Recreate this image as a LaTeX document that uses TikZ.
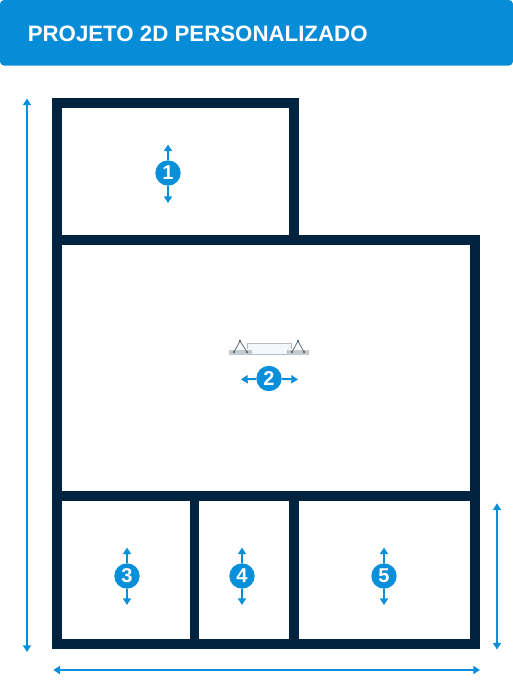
\documentclass[tikz,border=0pt]{standalone}
\usepackage{fontspec}
\setmainfont{Liberation Sans}
\usetikzlibrary{arrows.meta}
\definecolor{brand}{HTML}{078FD9}
\definecolor{bannerC}{HTML}{078DD8}
\definecolor{wallC}{HTML}{00243F}
\definecolor{winfill}{HTML}{F1F9FD}
\definecolor{winline}{HTML}{B4BEC2}
\definecolor{sill}{HTML}{C4C9CC}
\definecolor{hinge}{HTML}{5A6C78}
\tikzset{
  wall/.style={fill=wallC,draw=none},
  tipS/.tip={Triangle[length=5pt,width=6pt]},
  dim/.style={draw=brand,line width=1.5pt,tipS-tipS},
  spoke/.style={draw=brand,line width=1.5pt},
  badge/.style={circle,fill=brand,text=white,inner sep=0pt,minimum size=19pt,font=\bfseries\fontsize{15}{15}\selectfont},
  sillbar/.style={fill=sill,draw=none},
  frame/.style={draw=winline,line width=0.7pt},
  hingeline/.style={draw=hinge,line width=0.6pt},
  dot/.style={fill=hinge,draw=none}
}
\begin{document}
\begin{tikzpicture}[x=0.75pt,y=-0.75pt]
\useasboundingbox (0,0) rectangle (513,697);
\fill[white] (0,0) rectangle (513,697);
% banner
\fill[bannerC,rounded corners=3pt] (0,0) rectangle (513,65.5);
\node[anchor=west,text=white,inner sep=0pt,font=\bfseries\fontsize{16.7}{18}\selectfont] (title) at (27.5,33.5) {PROJETO 2D PERSONALIZADO};
% walls
\fill[wall] (52.3,98.3) rectangle (299,108.3);
\fill[wall] (52.3,98.3) rectangle (62.3,649.3);
\fill[wall] (289,98.3) rectangle (299,245);
\fill[wall] (52.3,235) rectangle (479.8,245);
\fill[wall] (470,235) rectangle (479.8,649.3);
\fill[wall] (52.3,490.8) rectangle (479.8,500.5);
\fill[wall] (52.3,639.3) rectangle (479.8,649.3);
\fill[wall] (190,490.8) rectangle (199.3,649.3);
\fill[wall] (289,490.8) rectangle (299,649.3);
% window symbol
\fill[winfill] (247.5,343.5) rectangle (291,354);
\draw[frame] (247.5,349) -- (247.5,343.5) -- (291,343.5) -- (291,349);
\draw[frame] (251,354.5) -- (287,354.5);
\fill[sillbar] (229,349.5) rectangle (251,354.5);
\fill[sillbar] (287,349.5) rectangle (309,354.5);
\draw[frame] (251,349.5) -- (251,354.5);
\draw[frame] (287,349.5) -- (287,354.5);
\draw[hingeline] (234,352) -- (240,341) -- (247,352);
\draw[hingeline] (292,352) -- (298,341) -- (304,352);
\foreach \p in {(234,352),(247,352),(240,341),(292,352),(304,352),(298,341)} \fill[dot] \p circle (1pt);
% badges
\node[badge] (b1) at (168,173) {1};
\node[badge] (b2) at (269,378.5) {2};
\node[badge] (b3) at (127,576) {3};
\node[badge] (b4) at (242,576) {4};
\node[badge] (b5) at (384,576) {5};
% badge arrows
\coordinate (b1u) at (168,144.5); \coordinate (b1d) at (168,203);
\coordinate (b2l) at (241,379.5); \coordinate (b2r) at (298,379.5);
\coordinate (b3u) at (127,547.5); \coordinate (b3d) at (127,605);
\coordinate (b4u) at (242,547.5); \coordinate (b4d) at (242,605);
\coordinate (b5u) at (384,547.5); \coordinate (b5d) at (384,605);
\draw[spoke,tipS-] (b1u) -- (b1);
\draw[spoke,-tipS] (b1) -- (b1d);
\draw[spoke,tipS-] (b2l) -- (b2);
\draw[spoke,-tipS] (b2) -- (b2r);
\draw[spoke,tipS-] (b3u) -- (b3);
\draw[spoke,-tipS] (b3) -- (b3d);
\draw[spoke,tipS-] (b4u) -- (b4);
\draw[spoke,-tipS] (b4) -- (b4d);
\draw[spoke,tipS-] (b5u) -- (b5);
\draw[spoke,-tipS] (b5) -- (b5d);
% dimension arrows
\coordinate (dlt) at (27,98.5); \coordinate (dlb) at (27,652);
\coordinate (dbl) at (53.3,670); \coordinate (dbr) at (480,670);
\coordinate (drt) at (497,503.3); \coordinate (drb) at (497,649.5);
\draw[dim] (dlt) -- (dlb);
\draw[dim] (dbl) -- (dbr);
\draw[dim] (drt) -- (drb);
\end{tikzpicture}
\end{document}
